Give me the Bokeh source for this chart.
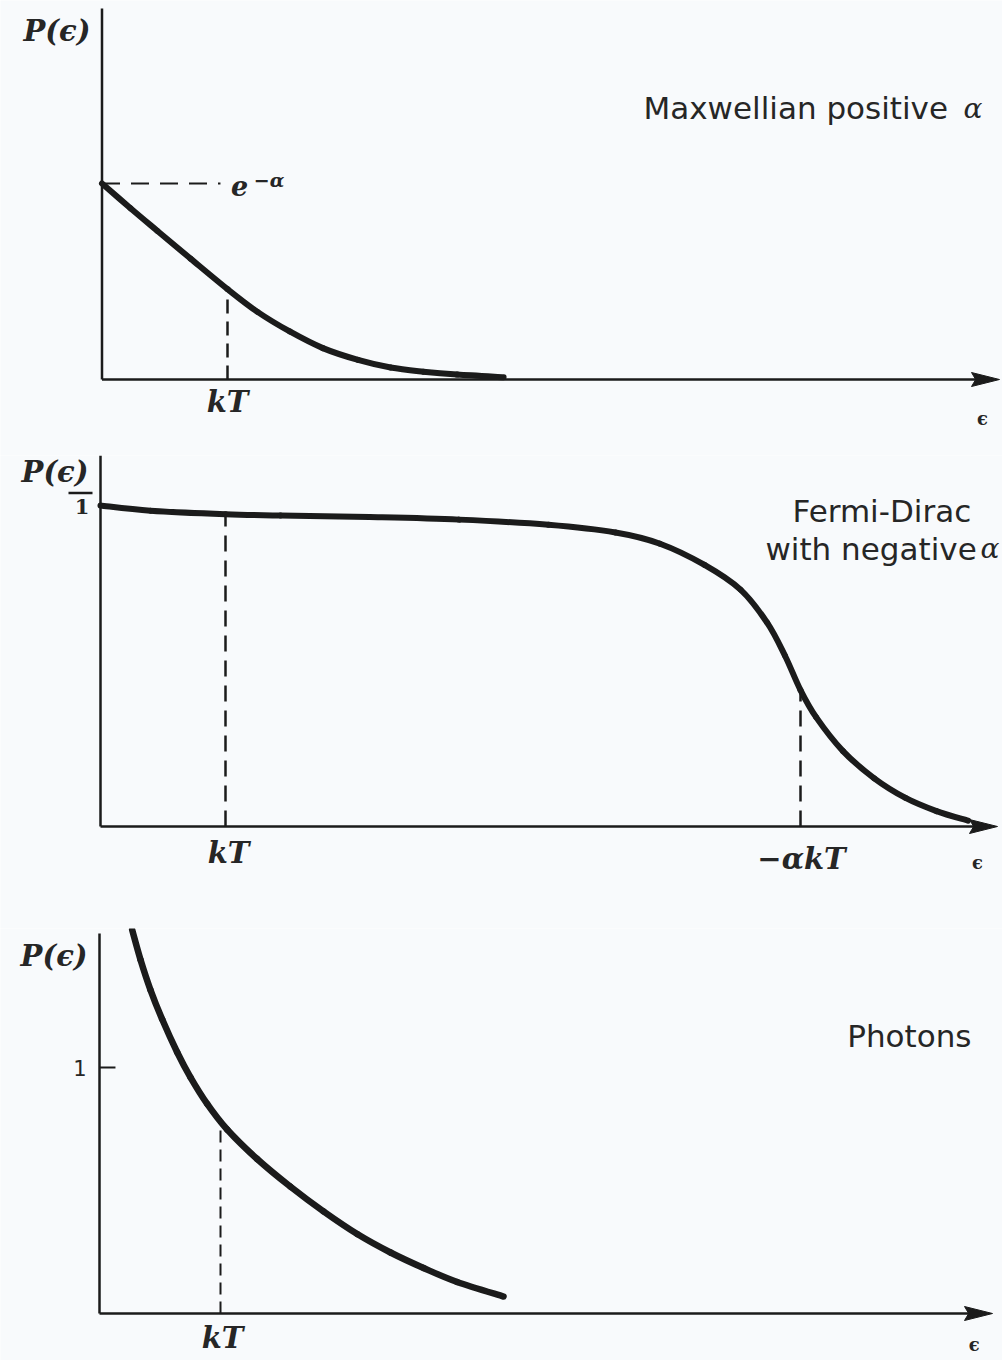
from bokeh.plotting import figure
from bokeh.layouts import column
from bokeh.models import Range1d
from bokeh.core.properties import value
from bokeh.embed import file_html
from bokeh.resources import INLINE

# ---------------- data (x in units of kT) ----------------
# Panel 1: Maxwellian, positive alpha (y in units of e^-alpha)
max_x = [0.0, 0.227, 0.442, 0.705, 1.0, 1.239, 1.496, 1.76, 2.04, 2.30, 2.56, 2.83, 3.20]
max_y = [1.0, 0.874, 0.758, 0.617, 0.461, 0.345, 0.245, 0.160, 0.100, 0.061, 0.040, 0.025, 0.012]
max_ea = 1.0          # level of e^-alpha
max_kt_drop = 0.461   # curve height at kT

# Panel 2: Fermi-Dirac with negative alpha (y in units of 1)
fd_x = [0.0, 0.4, 1.0, 1.44, 2.152, 2.869, 3.584, 4.12, 4.476, 4.832, 5.12, 5.333, 5.476,
        5.6, 5.726, 5.94, 6.19, 6.44, 6.688, 6.94]
fd_y = [1.0, 0.984, 0.973, 0.969, 0.964, 0.956, 0.940, 0.916, 0.881, 0.815, 0.738, 0.635, 0.532,
        0.425, 0.340, 0.235, 0.150, 0.089, 0.048, 0.018]
fd_kt_drop = 0.973
fd_mu = 5.6           # -alpha kT position
fd_mu_drop = 0.425

# Panel 3: Photons (y in units of 1)
ph_x = [0.27, 0.339, 0.421, 0.518, 0.642, 0.752, 0.89, 1.055, 1.303, 1.579, 1.851, 2.13, 2.405, 2.678, 2.956, 3.339]
ph_y = [1.559, 1.438, 1.316, 1.196, 1.062, 0.960, 0.852, 0.748, 0.628, 0.515, 0.415, 0.323, 0.248, 0.185, 0.128, 0.069]
ph_kt_drop = 0.783

titles = ["Maxwellian positive", "Fermi-Dirac", "with negative", "Photons"]
y_label = "P(\u03f5)"
x_label = "\u03f5"

# ---------------- styling ----------------
BG = "#f8fafc"
INK = "#1b1b1b"
TXT = "#262626"
W = 1002
PAGE_L = 0
SCALE = {}


def panel(page_top, height, ox, oy, sx, sy):
    """ox, oy: page pixel of the origin; sx, sy: pixels per data unit."""
    x0 = (PAGE_L - ox) / sx
    x1 = (PAGE_L + W - ox) / sx
    y1 = (oy - page_top) / sy
    y0 = (oy - page_top - height) / sy
    p = figure(width=W, height=height, x_range=Range1d(x0, x1), y_range=Range1d(y0, y1),
               output_backend="svg", toolbar_location=None, min_border=0,
               x_axis_location=None, y_axis_location=None, tools="")
    p.grid.visible = False
    p.outline_line_color = None
    p.background_fill_color = BG
    p.border_fill_color = BG
    SCALE[p.id] = (sx, sy, ox)
    return p


def axes(p, ytop, tip_page_x):
    sx, sy, ox = SCALE[p.id]
    tip = (tip_page_x - ox) / sx
    p.segment(x0=[0], y0=[0], x1=[0], y1=[ytop], line_color=INK, line_width=2.5)
    p.segment(x0=[0], y0=[0], x1=[tip - 20 / sx], y1=[0], line_color=INK, line_width=2.5)
    hl, hw = 28 / sx, 7 / sy
    p.patch(x=[tip - hl, tip, tip - hl, tip - hl * 0.85], y=[hw, 0, -hw, 0],
            fill_color=INK, line_color=INK, line_width=1)


def txt(p, x, y, s, size, font="DejaVu Serif", style="bold italic", align="center",
        baseline="middle", color=TXT):
    p.text(x=[x], y=[y], text=[s], text_font=value(font), text_font_size=f"{size}px",
           text_font_style=style, text_align=align, text_baseline=baseline, text_color=color)


def curve(p, xs, ys, lw=6):
    # smooth drawing through the read points (Catmull-Rom -> cubic Bezier)
    n = len(xs)
    seg = dict(x0=[], y0=[], x1=[], y1=[], cx0=[], cy0=[], cx1=[], cy1=[])
    for i in range(n - 1):
        im, ip = max(i - 1, 0), min(i + 2, n - 1)
        seg["x0"].append(xs[i]); seg["y0"].append(ys[i])
        seg["x1"].append(xs[i + 1]); seg["y1"].append(ys[i + 1])
        seg["cx0"].append(xs[i] + (xs[i + 1] - xs[im]) / 6)
        seg["cy0"].append(ys[i] + (ys[i + 1] - ys[im]) / 6)
        seg["cx1"].append(xs[i + 1] - (xs[ip] - xs[i]) / 6)
        seg["cy1"].append(ys[i + 1] - (ys[ip] - ys[i]) / 6)
    p.bezier(line_color=INK, line_width=lw, line_cap="round", **seg)


def drop(p, x, top, dash, lw=2.5):
    p.segment(x0=[x], y0=[0], x1=[x], y1=[top], line_color=INK, line_width=lw, line_dash=dash)


# ---------------- panel 1 ----------------
p1 = panel(0, 455, 101.5, 379, 125.5, 196)
axes(p1, (379 - 8) / 196, 999)
curve(p1, max_x, max_y)
p1.segment(x0=[0], y0=[max_ea], x1=[0.944], y1=[max_ea], line_color=INK, line_width=2, line_dash="18 11")
drop(p1, 1.0, max_kt_drop, "14 8")
txt(p1, -0.092, 1.776, y_label, 29, align="right")
txt(p1, 1.0, -0.117, "kT", 29)
txt(p1, 7.016, -0.199, x_label, 18, style="bold")
txt(p1, 1.028, 0.99, "e", 27, align="left")
txt(p1, 1.21, 1.02, "\u2212\u03b1", 19, align="left")
txt(p1, 4.315, 1.383, titles[0], 31, font="DejaVu Sans", style="normal", align="left")
txt(p1, 6.865, 1.383, "\u03b1", 28, style="italic", align="left")

# ---------------- panel 2 ----------------
p2 = panel(455, 473, 100, 826, 125, 321)
axes(p2, (826 - 455) / 321, 997)
curve(p2, fd_x, fd_y)
drop(p2, 1.0, fd_kt_drop, "16 9")
drop(p2, fd_mu, fd_mu_drop, "16 9")
txt(p2, -0.096, 1.103, y_label, 29, align="right")
txt(p2, -0.148, 0.997, "1", 21, style="bold")
p2.segment(x0=[-0.256], y0=[1.039], x1=[-0.064], y1=[1.039], line_color=INK, line_width=2.5)
txt(p2, 1.024, -0.081, "kT", 29)
txt(p2, 5.608, -0.1, "\u2212\u03b1kT", 29)
txt(p2, 7.016, -0.112, x_label, 18, style="bold")
txt(p2, 5.536, 0.984, titles[1], 31, font="DejaVu Sans", style="normal", align="left")
txt(p2, 5.32, 0.866, titles[2], 31, font="DejaVu Sans", style="normal", align="left")
txt(p2, 7.04, 0.866, "\u03b1", 28, style="italic", align="left")

# ---------------- panel 3 ----------------
p3 = panel(928, 432, 99, 1313, 121, 246)
axes(p3, (1313 - 933) / 246, 992)
curve(p3, ph_x, ph_y, lw=6.5)
drop(p3, 1.0, ph_kt_drop, "12 7", lw=2)
p3.segment(x0=[0], y0=[1.0], x1=[0.132], y1=[1.0], line_color=INK, line_width=2)
txt(p3, -0.099, 1.455, y_label, 29, align="right")
txt(p3, -0.107, 1.0, "1", 21, font="DejaVu Sans", style="normal", align="right")
txt(p3, 1.017, -0.098, "kT", 29)
txt(p3, 7.23, -0.126, x_label, 18, style="bold")
txt(p3, 6.18, 1.13, titles[3], 31, font="DejaVu Sans", style="normal", align="left")

layout = column(p1, p2, p3, spacing=0)
open("out.html", "w").write(file_html(layout, INLINE))
